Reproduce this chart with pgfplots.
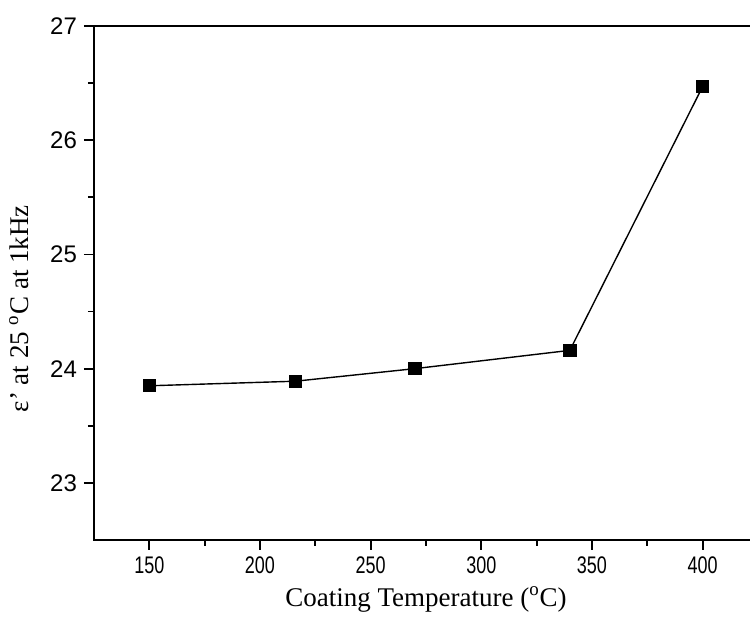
\documentclass[border=0pt]{standalone}
\usepackage{fontspec}
\setmainfont{Liberation Serif}
\newfontfamily\arialfont{Liberation Sans}
\usepackage{pgfplots}
\pgfplotsset{compat=1.18}
\begin{document}
\begin{tikzpicture}
  \begin{axis}[
    scale only axis,
    width=332pt, height=257pt,
    xmin=125, xmax=425,
    ymin=22.5, ymax=27,
    xtick={150,200,...,400},
    ytick={23,24,25,26,27},
    minor x tick num=1, minor y tick num=1,
    tick align=outside, xtick pos=bottom, ytick pos=left,
    major tick length=5pt, minor tick length=3pt,
    axis line style={line width=1pt},
    every tick/.style={black, line width=0.9pt},
    /pgf/number format/assume math mode=true,
    tick label style={font=\arialfont\fontsize{12}{14}\selectfont},
    xticklabel style={xscale=0.75},
    label style={font=\fontsize{13.5}{16}\selectfont},
    xlabel={Coating Temperature (\textsuperscript{o}C)},
    ylabel={ε' at 25 \textsuperscript{o}C at 1kHz},
    xlabel style={at={(axis description cs:0.5,-0.116)}, anchor=center},
    ylabel style={at={(axis description cs:-0.113,0.45)}, anchor=center, rotate=0},
  ]

  % values
  \addplot[black, line width=0.7pt, mark=square*, mark size=3pt] coordinates {
    (150,23.85) (216,23.89) (270,24.00) (340,24.16) (400,26.47)
  };

  \coordinate (bl) at (rel axis cs:0,0);
  \coordinate (tr) at (axis cs:421.4,27);
  \end{axis}
  \path (bl) ++(-47pt,-39pt) coordinate (A);
  \path (tr) ++(0pt,13pt) coordinate (B);
  \pgfresetboundingbox
  \path[use as bounding box] (A) rectangle (B);
\end{tikzpicture}
\end{document}
